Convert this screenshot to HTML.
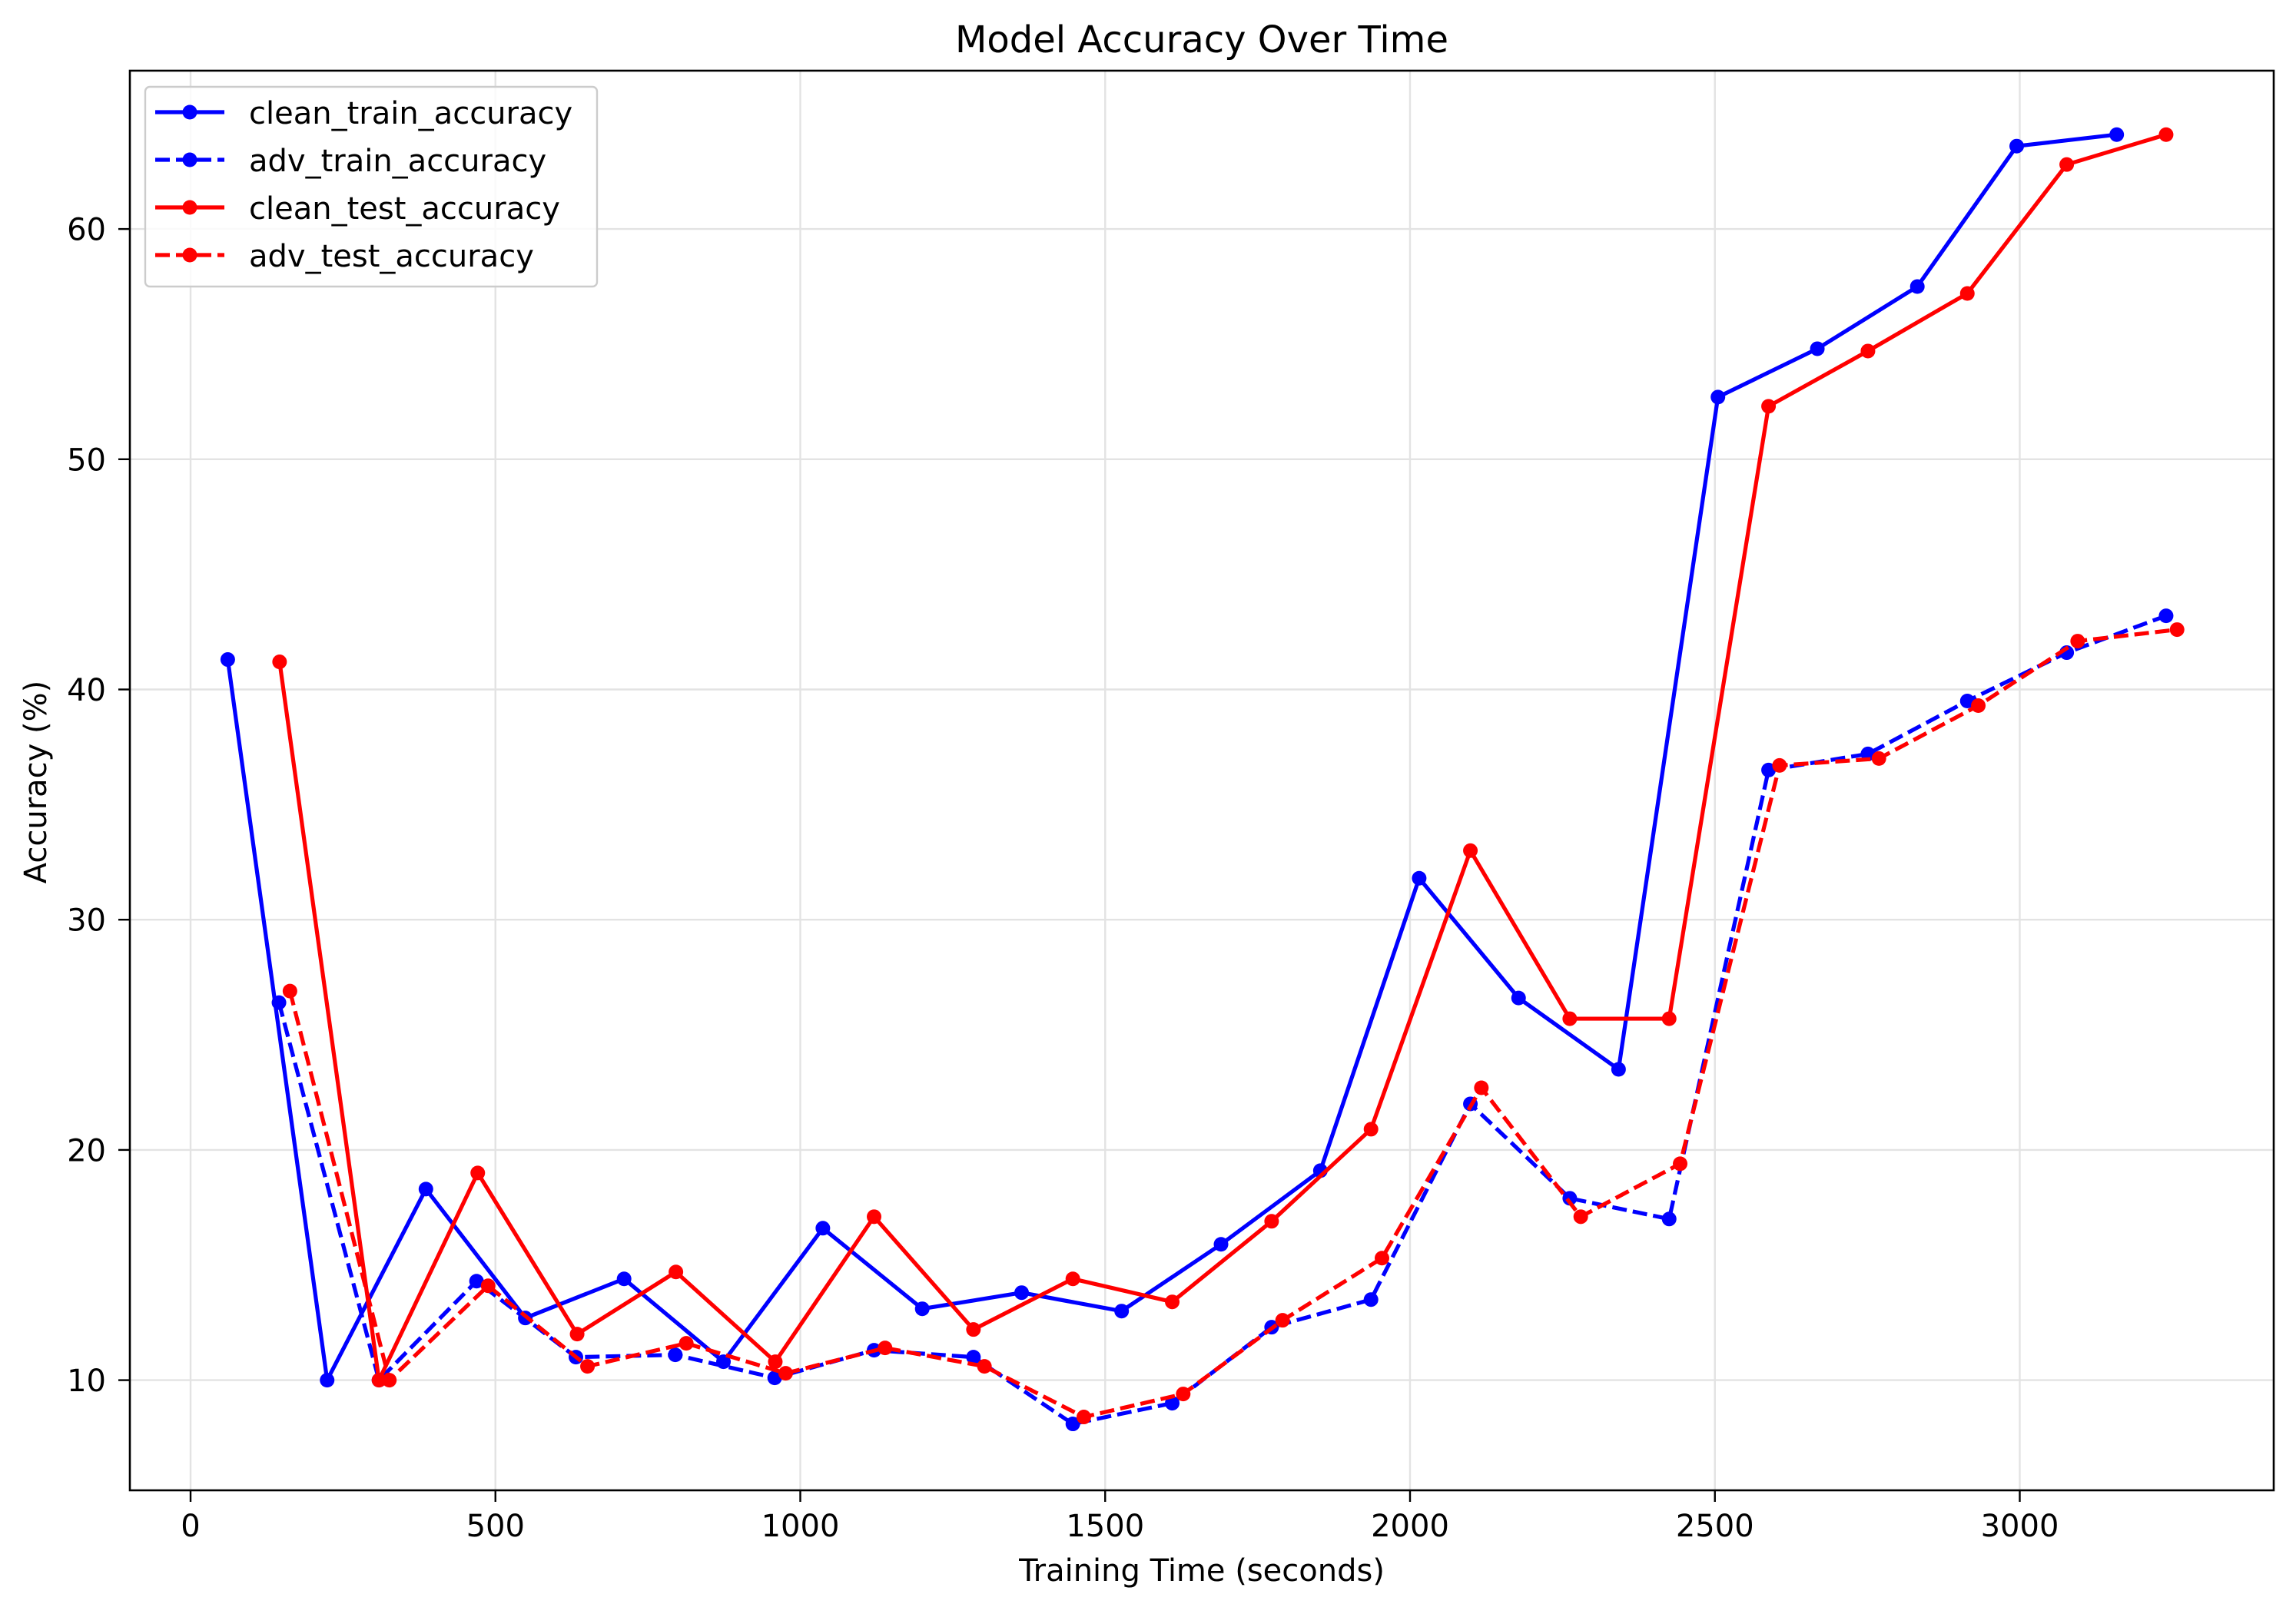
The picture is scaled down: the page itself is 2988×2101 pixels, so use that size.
<!DOCTYPE html>
<html><head><meta charset="utf-8"><style>
body{margin:0;background:#fff}
svg text{font-family:"DejaVu Sans","Liberation Sans",sans-serif;fill:#000}
</style></head><body>
<svg id="chart" width="2988" height="2096" xmlns="http://www.w3.org/2000/svg">
<rect width="2988" height="2096" fill="#fff"/>
<g id="grid"></g>
<g id="series"></g>
<rect x="169" y="92" width="2790" height="1848" fill="none" stroke="#000" stroke-width="2.6"/>
<g id="axes"></g>
<text x="1564" y="68" font-size="48" text-anchor="middle">Model Accuracy Over Time</text>
<text x="1564" y="2058" font-size="40" text-anchor="middle">Training Time (seconds)</text>
<text x="0" y="0" font-size="40" text-anchor="middle" transform="translate(60,1018) rotate(-90)">Accuracy (%)</text>
<g id="legend"></g>
</svg>
<script>
const xTicks=[0,500,1000,1500,2000,2500,3000];
const yTicks=[10,20,30,40,50,60];
const cleanTrainT=[61,224,386,549,711,874,1037,1200,1363,1527,1690,1853,2015,2178,2342,2505,2668,2832,2995,3159];
const cleanTrainV=[41.3,10.0,18.3,12.7,14.4,10.8,16.6,13.1,13.8,13.0,15.9,19.1,31.8,26.6,23.5,52.7,54.8,57.5,63.6,64.1];
const advTrainT=[145,309,469,632,795,958,1121,1284,1447,1610,1773,1936,2099,2262,2425,2588,2751,2914,3077,3240];
const advTrainV=[26.4,10.0,14.3,11.0,11.1,10.1,11.3,11.0,8.1,9.0,12.3,13.5,22.0,17.9,17.0,36.5,37.2,39.5,41.6,43.2];
const cleanTestT=[146,309,471,634,796,959,1121,1284,1447,1610,1773,1936,2099,2262,2425,2588,2751,2914,3077,3240];
const cleanTestV=[41.2,10.0,19.0,12.0,14.7,10.8,17.1,12.2,14.4,13.4,16.9,20.9,33.0,25.7,25.7,52.3,54.7,57.2,62.8,64.1];
const advTestT=[163,326,488,651,813,976,1139,1302,1465,1628,1791,1954,2117,2280,2443,2606,2769,2932,3095,3258];
const advTestV=[26.9,10.0,14.1,10.6,11.6,10.3,11.4,10.6,8.4,9.4,12.6,15.3,22.7,17.1,19.4,36.7,37.0,39.3,42.1,42.6];
const seriesNames=["clean_train_accuracy","adv_train_accuracy","clean_test_accuracy","adv_test_accuracy"];

const NS="http://www.w3.org/2000/svg";
const X=t=>248+t*0.7935;
const Y=v=>1796.6-(v-10)*29.97;
function mk(tag,attrs,parent){const e=document.createElementNS(NS,tag);for(const k in attrs)e.setAttribute(k,attrs[k]);parent.appendChild(e);return e;}
const grid=document.getElementById('grid'),axes=document.getElementById('axes');
xTicks.forEach(t=>{
  const g=mk('line',{x1:X(t),x2:X(t),y1:92,y2:1940,stroke:'#e3e3e3','stroke-width':2.4},grid);
  
  
  const tk=mk('line',{x1:X(t),x2:X(t),y1:1940,y2:1955,stroke:'#000','stroke-width':2.4},axes);
  
  
  const tx=mk('text',{x:X(t),y:2000,'font-size':40,'text-anchor':'middle'},axes);
  tx.textContent=t;
  
  
});
yTicks.forEach(v=>{
  const g=mk('line',{x1:169,x2:2959,y1:Y(v),y2:Y(v),stroke:'#e3e3e3','stroke-width':2.4},grid);
  
  
  const tk=mk('line',{x1:154,x2:169,y1:Y(v),y2:Y(v),stroke:'#000','stroke-width':2.4},axes);
  
  
  const tx=mk('text',{x:138,y:Y(v)+14.5,'font-size':40,'text-anchor':'end'},axes);
  tx.textContent=v;
  
  
});
const sg=document.getElementById('series');
const defs=[[cleanTrainT,cleanTrainV,'#0000ff',false],[advTrainT,advTrainV,'#0000ff',true],[cleanTestT,cleanTestV,'#ff0000',false],[advTestT,advTestV,'#ff0000',true]];
defs.forEach((d,i)=>{
  const g=mk('g',{},sg);
  
  
  const pts=d[0].map((t,j)=>X(t)+','+Y(d[1][j])).join(' ');
  const pl=mk('polyline',{points:pts,fill:'none',stroke:d[2],'stroke-width':5.2,'stroke-linejoin':'round'},g);
  if(d[3])pl.setAttribute('stroke-dasharray','19,8');
  
  
  d[0].forEach((t,j)=>{
    const c=mk('circle',{cx:X(t),cy:Y(d[1][j]),r:9.5,fill:d[2]},g);
    
    
  });
});
const lg=document.getElementById('legend');
const box=mk('rect',{x:189,y:113,width:588,height:260,rx:6,fill:'#fff','fill-opacity':0.8,stroke:'#cccccc','stroke-width':2.4},lg);


seriesNames.forEach((n,i)=>{
  const y=146+i*62;
  const g=mk('g',{},lg);
  
  
  const l=mk('line',{x1:202,x2:292,y1:y,y2:y,stroke:defs[i][2],'stroke-width':5.2},g);
  if(defs[i][3])l.setAttribute('stroke-dasharray','19,8');
  mk('circle',{cx:247,cy:y,r:9.5,fill:defs[i][2]},g);
  const t=mk('text',{x:324,y:y+15,'font-size':40},g);
  t.textContent=n;
});
</script>
</body></html>
